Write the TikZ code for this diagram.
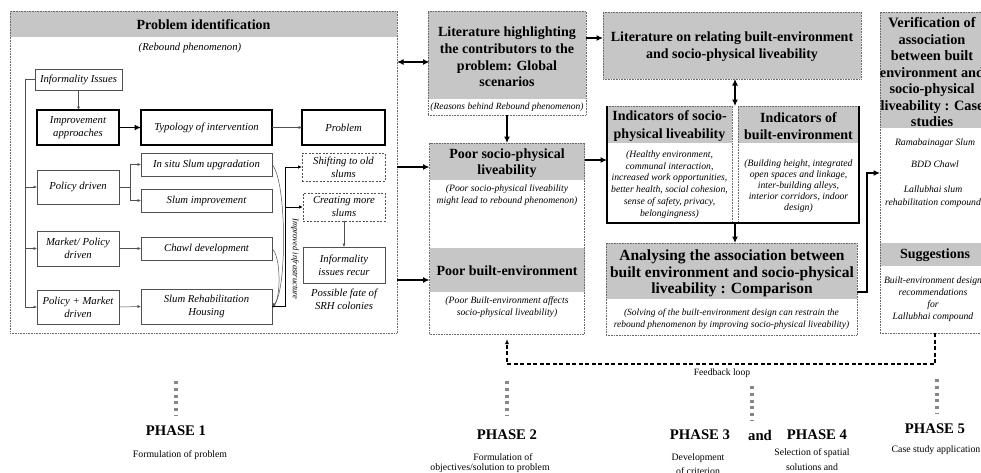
\documentclass[tikz,border=0pt]{standalone}
\usepackage{fontspec}
\setmainfont{Liberation Serif}
\usetikzlibrary{arrows.meta,calc}
\definecolor{hdr}{RGB}{198,198,198}
\definecolor{bord}{RGB}{105,105,105}
\definecolor{thinln}{RGB}{80,80,80}
\definecolor{phgray}{RGB}{135,135,135}
\begin{document}
\begin{tikzpicture}[x=1pt,y=-1pt,
  every node/.style={inner sep=0pt, outer sep=0pt},
  frame/.style={draw=bord, densely dotted, line width=0.6pt},
  hdrfill/.style={fill=hdr},
  ttl/.style={font=\fontsize{14}{16.7}\selectfont\bfseries, align=center},
  itl/.style={font=\fontsize{10.7}{13}\selectfont\itshape, align=center},
  sit/.style={font=\fontsize{9.7}{11.8}\selectfont\itshape, align=center},
  rgl/.style={font=\fontsize{9.8}{12}\selectfont, align=center},
  phs/.style={font=\fontsize{14.7}{17}\selectfont\bfseries},
  thinbox/.style={draw=thinln, line width=0.6pt},
  thickbox/.style={draw=black, line width=1.4pt},
  dashbox/.style={draw=thinln, line width=0.7pt, dash pattern=on 2pt off 1.5pt},
  thinarr/.style={draw=thinln, line width=0.5pt, -{Latex[length=3.5pt,width=3pt]}},
  medarr/.style={draw=black, line width=1pt, -{Latex[length=4pt,width=3.5pt]}},
  thickarr/.style={draw=black, line width=1.7pt, -{Latex[length=6.5pt,width=6pt]}},
  dblarr/.style={draw=black, line width=1.7pt, {Latex[length=6.5pt,width=6pt]}-{Latex[length=6.5pt,width=6pt]}},
  fbline/.style={draw=black, line width=1.3pt, dash pattern=on 4pt off 2.5pt},
  phline/.style={draw=phgray, line width=3.2pt, dash pattern=on 3pt off 3.8pt},
]
\useasboundingbox (0,0) rectangle (981,472);
\fill[white] (0,0) rectangle (981,472);

% ---------------- Phase 1 : Problem identification ----------------
\node[hdrfill, minimum width=387pt, minimum height=26pt] (pih) at (203.5,24) {};
\node[frame, minimum width=387pt, minimum height=322pt] (pi) at (203.5,172) {};
\node[ttl] (pit) at (203.5,24.5) {Problem identification};
\node[itl] (pis) at (190,48) {(Rebound phenomenon)};

\node[thinbox, itl, minimum width=87pt, minimum height=21pt] (inf) at (78.5,79.5) {Informality Issues};
\node[thickbox, itl, minimum width=82pt, minimum height=35pt] (imp) at (78,127.5) {Improvement\\approaches};
\node[thickbox, itl, minimum width=131pt, minimum height=35pt] (typ) at (206.5,127.5) {Typology of intervention};
\node[thickbox, itl, minimum width=83pt, minimum height=35pt] (prob) at (343.5,127.5) {Problem};

\node[thinbox, itl, minimum width=82pt, minimum height=34pt] (pol) at (78,187) {Policy driven};
\node[thinbox, itl, minimum width=82pt, minimum height=35pt] (mkt) at (78,248.5) {Market/ Policy\\driven};
\node[thinbox, itl, minimum width=82pt, minimum height=34pt] (pm) at (78,307) {Policy + Market\\driven};

\node[thinbox, itl, minimum width=131pt, minimum height=23pt] (insitu) at (206.5,164.5) {In situ Slum upgradation};
\node[thinbox, itl, minimum width=131pt, minimum height=23pt] (simp) at (206.5,200.5) {Slum improvement};
\node[thinbox, itl, minimum width=131pt, minimum height=23pt] (chawl) at (206.5,248.5) {Chawl development};
\node[thinbox, itl, minimum width=131pt, minimum height=35pt] (srh) at (206.5,306.5) {Slum Rehabilitation\\Housing};

\node[dashbox, itl, minimum width=83pt, minimum height=28pt] (shift) at (343.5,167) {Shifting to old\\slums};
\node[dashbox, itl, minimum width=82pt, minimum height=28pt] (create) at (344,207) {Creating more\\slums};
\node[thinbox, itl, minimum width=82pt, minimum height=36pt] (recur) at (344,265) {Informality\\issues recur};
\node[itl] (fate) at (344,299.5) {Possible fate of\\SRH colonies};
\node[font=\fontsize{8.5}{10}\selectfont\itshape, rotate=-90] (impinf) at (295,259) {Improved infrastructure};

% connectors phase 1
\draw[thinarr] (inf.south) -- (inf.south |- imp.north);
\draw[thickarr] (imp.east) -- (typ.west);
\draw[thinarr] (typ.east) -- (prob.west);
\coordinate (spine) at (25,79.5);
\draw[thinln, line width=0.5pt] (inf.west) -- (spine);
\draw[thinarr] (spine) |- (pm.west);
\draw[thinarr] (spine |- pol.west) -- (pol.west);
\draw[thinarr] (spine |- mkt.west) -- (mkt.west);
\coordinate (pb) at (130,187);
\draw[thinln, line width=0.5pt] (pol.east) -- (pb);
\draw[thinarr] (pb) |- (insitu.west);
\draw[thinarr] (pb) |- (simp.west);
\draw[thinarr] (mkt.east) -- (chawl.west);
\draw[thinarr] (pm.east) -- (srh.west);
\draw[thinarr] (insitu.east) .. controls (287,180) and (287,292) .. (srh.east);
\draw[thinarr] (chawl.east) .. controls (281,256) and (281,298) .. ([yshift=-1.5pt]srh.east);
\coordinate (sj) at (285,306.5);
\draw[black, line width=1pt] (srh.east) -- (sj);
\draw[medarr] (sj) |- (shift.west);
\draw[medarr] (sj |- create.west) -- (create.west);
\draw[thinarr] (create.south) -- (create.south |- recur.north);

% ---------------- Phase 2 ----------------
\node[hdrfill, minimum width=158pt, minimum height=88pt] (l1h) at (507,55) {};
\node[frame, minimum width=158pt, minimum height=104pt] (lit1) at (507,63) {};
\node[ttl] (lit1t) at (507,57) {Literature highlighting\\the contributors to the\\problem: Global\\scenarios};
\node[sit, font=\fontsize{9.5}{11}\selectfont\itshape] (lit1s) at (507,107) {(Reasons behind Rebound phenomenon)};

\node[hdrfill, minimum width=155pt, minimum height=37pt] (h21) at (507,161.5) {};
\node[hdrfill, minimum width=155pt, minimum height=44pt] (h22) at (507,270) {};
\node[frame, minimum width=155pt, minimum height=191pt] (p2) at (507,238.5) {};
\node[ttl] (h21t) at (507,163) {Poor socio-physical\\liveability};
\node[sit] (h21s) at (507,195.5) {(Poor socio-physical liveability\\might lead to rebound phenomenon)};
\node[ttl] (h22t) at (507,271) {Poor built-environment};
\node[sit] (h22s) at (507,307) {(Poor Built-environment affects\\socio-physical liveability)};

% ---------------- Phase 3/4 ----------------
\node[hdrfill, frame, minimum width=258pt, minimum height=67pt] (lit2) at (732,45.5) {};
\node[ttl, font=\fontsize{14}{17}\selectfont\bfseries] (lit2t) at (732,46.5) {Literature on relating built-environment\\and socio-physical liveability};

\node[hdrfill, minimum width=125pt, minimum height=37pt] (i1h) at (669.5,124.5) {};
\node[hdrfill, minimum width=121pt, minimum height=37pt] (i2h) at (798.5,124.5) {};
\node[frame, minimum width=125pt, minimum height=117pt] (ind1) at (669.5,164.5) {};
\node[frame, minimum width=121pt, minimum height=117pt] (ind2) at (798.5,164.5) {};
\draw[black, line width=1.4pt] (ind1.north west) -- (ind1.south west) -- (ind2.south east) -- (ind2.north east);
\node[ttl, font=\fontsize{14}{17.5}\selectfont\bfseries] (i1t) at (669.5,126) {Indicators of socio-\\physical liveability};
\node[ttl, font=\fontsize{14}{17.5}\selectfont\bfseries] (i2t) at (798.5,126) {Indicators of\\built-environment};
\node[sit] (i1s) at (669.5,184.5) {(Healthy environment,\\communal interaction,\\increased work opportunities,\\better health, social cohesion,\\sense of safety, privacy,\\belongingness)};
\node[sit, font=\fontsize{9.7}{11}\selectfont\itshape] (i2s) at (798.5,186.5) {(Building height, integrated\\open spaces and linkage,\\inter-building alleys,\\interior corridors, indoor\\design)};

\node[hdrfill, minimum width=251pt, minimum height=56pt] (anh) at (731.5,271) {};
\node[frame, minimum width=251pt, minimum height=92pt] (ana) at (731.5,289) {};
\node[ttl, font=\fontsize{15.5}{16.6}\selectfont\bfseries] (anat) at (732,273.5) {Analysing the association between\\built environment and socio-physical\\liveability : Comparison};
\node[sit, font=\fontsize{9.5}{12}\selectfont\itshape] (anas) at (731.5,319) {(Solving of the built-environment design can restrain the\\rebound phenomenon by improving socio-physical liveability)};

% ---------------- Phase 5 ----------------
\node[hdrfill, minimum width=110pt, minimum height=116pt] (p5h) at (935,70) {};
\node[hdrfill, minimum width=110pt, minimum height=23pt] (sugh) at (935,254.5) {};
\node[frame, minimum width=110pt, minimum height=321pt] (ph5) at (935,172.5) {};
\node[ttl, font=\fontsize{14.3}{16.5}\selectfont\bfseries] (p5t) at (932,72.5) {Verification of\\association\\between built\\environment and\\socio-physical\\liveability : Case\\studies};
\node[sit] (c1) at (935,143) {Ramabainagar Slum};
\node[sit] (c2) at (935,164) {BDD Chawl};
\node[sit, font=\fontsize{9.7}{13}\selectfont\itshape] (c3) at (933,196.5) {Lallubhai slum\\rehabilitation compound};
\node[ttl] (sugt) at (935,255) {Suggestions};
\node[sit, font=\fontsize{9.7}{12}\selectfont\itshape] (sugs) at (933,299.5) {Built-environment design\\recommendations\\for\\Lallubhai compound};

% ---------------- main connectors ----------------
\coordinate (a0) at (429.5,62);
\draw[dblarr] (pi.east |- a0) -- (a0);
\coordinate (a1) at (429.5,167);
\draw[thickarr] (pi.east |- a1) -- (a1);
\coordinate (a2) at (429.5,280);
\draw[thickarr] (pi.east |- a2) -- (a2);
\draw[thickarr] (lit1.south) -- (lit1.south |- p2.north);
\coordinate (a4) at (603,38);
\draw[thickarr] (lit1.east |- a4) -- (a4);
\coordinate (a3) at (607,160);
\draw[thickarr] (p2.east |- a3) -- (a3);
\coordinate (a5) at (735,106);
\draw[dblarr] (lit2.south -| a5) -- (a5);
\coordinate (a6) at (735,223);
\draw[thickarr] (a6) -- (a6 |- ana.north);
\coordinate (a7) at (867,292);
\coordinate (a8) at (880,173);
\draw[thickarr] (ana.east |- a7) -- (a7) |- (a8);

% feedback loop
\coordinate (fb) at (507,364);
\draw[fbline, -{Latex[length=5pt,width=4pt]}, shorten >=5pt] (ph5.south) |- (fb) -- (p2.south);
\node[rgl, font=\fontsize{9.6}{11}\selectfont] (fbt) at (722,373) {Feedback loop};

% ---------------- phase labels ----------------
\node[phs] (ph1) at (176,431) {PHASE 1};
\node[rgl] (ph1d) at (180,455) {Formulation of problem};
\draw[phline] (176,381) -- (176,416);

\node[phs] (ph2) at (507,435) {PHASE 2};
\node[rgl] (ph2d) at (503,457) {Formulation of};
\node[rgl] (ph2e) at (490,468) {objectives/solution to problem};
\draw[phline] (507,381) -- (507,416);

\node[phs] (ph3) at (700,435) {PHASE 3};
\node[phs] (and) at (760,435) {and};
\node[phs] (ph4) at (817,435) {PHASE 4};
\node[rgl] (ph3d) at (698,458) {Development};
\node[rgl] (ph3e) at (698,471) {of criterion};
\node[rgl] (ph4d) at (812,453) {Selection of spatial};
\node[rgl] (ph4e) at (812,467) {solutions and};
\draw[phline] (752,386) -- (752,421);

\node[phs] (ph5l) at (935,429) {PHASE 5};
\node[rgl] (ph5d) at (936,450) {Case study application};
\draw[phline] (937,379) -- (937,414);
\end{tikzpicture}
\end{document}
